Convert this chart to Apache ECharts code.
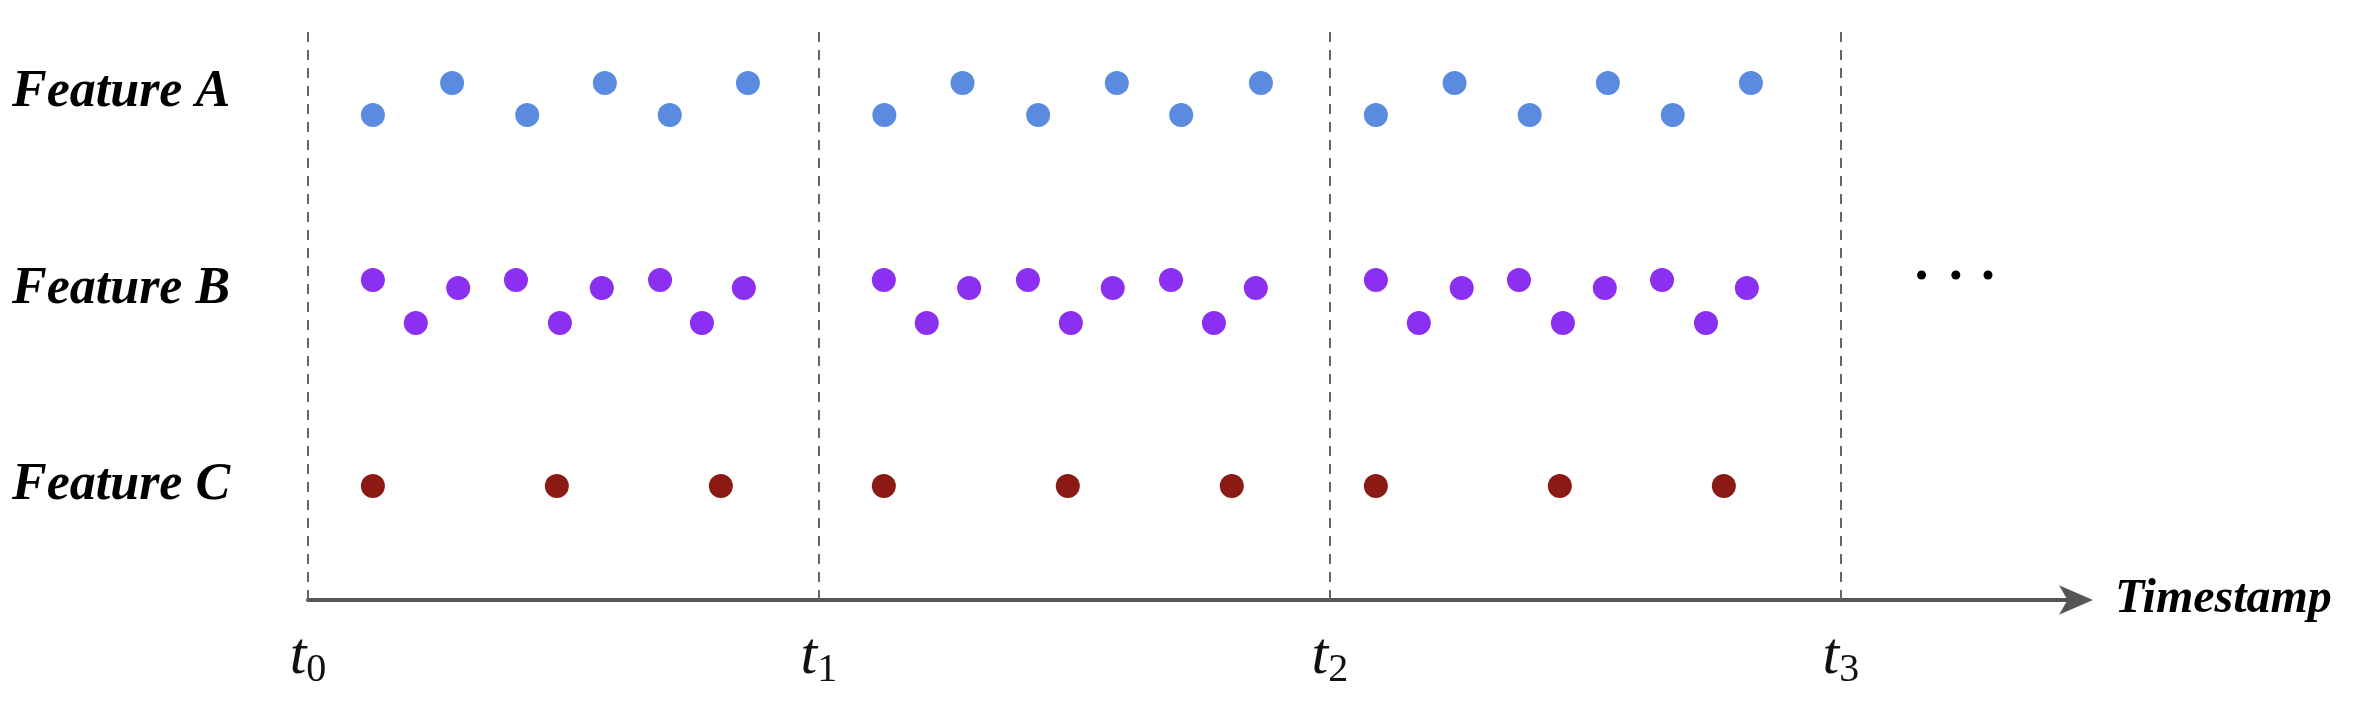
<!DOCTYPE html>
<html><head><meta charset="utf-8">
<script src="https://cdn.jsdelivr.net/npm/echarts@6/dist/echarts.min.js"></script>
<style>html,body{margin:0;background:#fff}#c{width:2379px;height:706px}</style></head>
<body><div id="c"></div>
<script>
const ticks = [0, 1, 2, 3];
const tickLabels = ['0', '1', '2', '3'];
const rowNames = ['Feature A', 'Feature B', 'Feature C'];
const rowLabelY = [503, 306, 110];
const featureA = [[0.127,485],[0.282,517],[0.429,485],[0.581,517],[0.708,485],[0.861,517],
  [1.128,485],[1.281,517],[1.429,485],[1.583,517],[1.709,485],[1.865,517],
  [2.090,485],[2.244,517],[2.391,485],[2.544,517],[2.671,485],[2.824,517]];
const featureB = [[0.127,320],[0.211,277],[0.294,312],[0.407,320],[0.493,277],[0.575,312],[0.689,320],[0.771,277],[0.853,312],
  [1.127,320],[1.211,277],[1.294,312],[1.409,320],[1.493,277],[1.575,312],[1.689,320],[1.773,277],[1.855,312],
  [2.090,320],[2.174,277],[2.258,312],[2.370,320],[2.456,277],[2.538,312],[2.650,320],[2.736,277],[2.816,312]];
const featureC = [[0.127,114],[0.487,114],[0.808,114],[1.127,114],[1.487,114],[1.808,114],[2.090,114],[2.450,114],[2.771,114]];
const ellipsis = [[3.158,325],[3.225,325],[3.288,325]];
const xMax = 3.47;

const chart = echarts.init(document.getElementById('c'));
const serif = '"Liberation Serif","DejaVu Serif",serif';
chart.setOption({
  animation:false,
  grid:{left:308,right:298,top:30,bottom:106},
  xAxis:{type:'value',min:0,max:xMax,interval:1,
    axisLine:{lineStyle:{color:'#555',width:4},symbol:['none','arrow'],symbolSize:[22,34],symbolOffset:[0,12]},
    axisTick:{show:false},splitLine:{show:false},
    axisLabel:{margin:24,formatter:v=>{const i=ticks.indexOf(v);return i<0?'':'{t|t}{s|'+tickLabels[i]+'}';},
      rich:{t:{fontFamily:serif,fontStyle:'italic',fontSize:60,color:'#111'},
            s:{fontFamily:serif,fontSize:40,color:'#111',padding:[26,0,0,0]}}},
    name:'Timestamp',nameLocation:'end',nameGap:34,
    nameTextStyle:{fontFamily:serif,fontStyle:'italic',fontWeight:'bold',fontSize:48,color:'#000',padding:[20,0,0,0]}},
  yAxis:{type:'value',min:0,max:570,show:false},
  series:[
    {type:'scatter',data:featureA,symbolSize:24,itemStyle:{color:'#5b8be0',opacity:1},
      markLine:{silent:true,symbol:'none',label:{show:false},lineStyle:{color:'#666',type:[10,8],width:2},
        data:ticks.map(t=>({xAxis:t}))}},
    {type:'scatter',data:featureB,symbolSize:24,itemStyle:{color:'#8b2ff0',opacity:1}},
    {type:'scatter',data:featureC,symbolSize:24,itemStyle:{color:'#8b1a14',opacity:1}},
    {type:'scatter',data:ellipsis,symbolSize:9,itemStyle:{color:'#000',opacity:1}}
  ]
});
const graphics = rowNames.map((n,i)=>{
  const p = chart.convertToPixel({gridIndex:0},[0,rowLabelY[i]]);
  return {type:'text',left:12,top:p[1]-30,style:{text:n,fontFamily:serif,fontStyle:'italic',fontWeight:'bold',fontSize:52,fill:'#000'}};
});
chart.setOption({graphic:graphics});
</script></body></html>
